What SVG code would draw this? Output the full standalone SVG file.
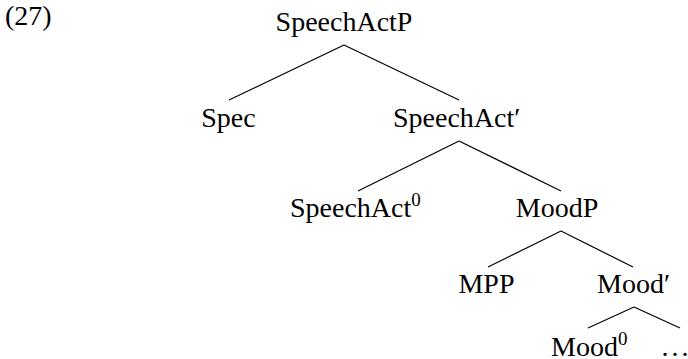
<svg xmlns="http://www.w3.org/2000/svg" width="688" height="359" viewBox="0 0 688 359">
<style>
text{font-family:"Liberation Serif","Times New Roman",serif;font-size:28px;fill:#000}
.sup{font-size:19px}
.edges line{stroke:#000;stroke-width:1.2}
</style>
<rect width="688" height="359" fill="#fff"/>
<text x="5" y="25">(27)</text>
<g class="edges" id="edges">
<line x1="344" y1="45" x2="229" y2="100"/>
<line x1="344" y1="45" x2="459" y2="100"/>
<line x1="459" y1="141" x2="358" y2="191"/>
<line x1="459" y1="141" x2="561" y2="191"/>
<line x1="561" y1="231" x2="488" y2="267"/>
<line x1="561" y1="231" x2="633" y2="267"/>
<line x1="634" y1="307" x2="588" y2="328"/>
<line x1="634" y1="307" x2="680" y2="328"/>
</g>
<g id="n-speechactp"><text x="344" y="31" text-anchor="middle">SpeechActP</text></g>
<g id="n-spec"><text x="228.5" y="127" text-anchor="middle">Spec</text></g>
<g id="n-speechactbar"><text x="393" y="127">SpeechAct′</text></g>
<g id="n-speechact0"><text x="290" y="217">SpeechAct<tspan class="sup" dy="-11">0</tspan></text></g>
<g id="n-moodp"><text x="557" y="217" text-anchor="middle">MoodP</text></g>
<g id="n-mpp"><text x="486.5" y="293" text-anchor="middle">MPP</text></g>
<g id="n-moodbar"><text x="597" y="293">Mood′</text></g>
<g id="n-mood0"><text x="551" y="356">Mood<tspan class="sup" dy="-11">0</tspan></text></g>
<g id="n-dots"><text x="661.5" y="356" letter-spacing="3">...</text></g>
</svg>
